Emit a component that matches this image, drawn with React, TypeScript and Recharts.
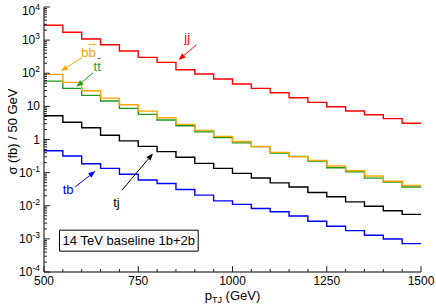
import React from "react";
import {
  LineChart,
  Line,
  XAxis,
  YAxis,
  ReferenceLine,
  ReferenceDot,
  ReferenceArea,
} from "recharts";

// bin edges in p_TJ (GeV), 50 GeV bins
const binEdges = [
  500, 550, 600, 650, 700, 750, 800, 850, 900, 950, 1000, 1050, 1100, 1150,
  1200, 1250, 1300, 1350, 1400, 1450, 1500,
];
const xMajor = [500, 750, 1000, 1250, 1500];
const yDecades = [-4, -3, -2, -1, 0, 1, 2, 3, 4];

// sigma (fb) per bin
const jj = [2800, 1720, 1080, 728, 469, 302, 213, 127, 95, 66.8, 47.2, 35, 25.8, 18.2, 13.2, 9.77, 7.24, 5.6, 4.26, 3.08];
const bb = [92.5, 53, 29.5, 17.8, 11.2, 7.2, 4.54, 2.87, 1.88, 1.24, 0.87, 0.616, 0.41, 0.3, 0.234, 0.158, 0.114, 0.079, 0.055, 0.041];
const tt = [58, 35, 21.5, 14.5, 8.7, 5.74, 3.88, 2.6, 1.7, 1.15, 0.79, 0.61, 0.39, 0.31, 0.223, 0.14, 0.106, 0.068, 0.052, 0.037];
const tj = [5.2, 3.3, 2.26, 1.35, 0.91, 0.62, 0.43, 0.29, 0.19, 0.134, 0.095, 0.069, 0.049, 0.037, 0.025, 0.0186, 0.0131, 0.0097, 0.0071, 0.0055];
const tb = [0.457, 0.318, 0.185, 0.134, 0.089, 0.06, 0.047, 0.031, 0.021, 0.014, 0.011, 0.0083, 0.0066, 0.0049, 0.0034, 0.0024, 0.00178, 0.00129, 0.00099, 0.00072];

const RED = "#ff0000";
const ORANGE = "#ffa500";
const GREEN = "#1f9a1f";
const BLACK = "#000000";
const BLUE = "#0000ff";

const series = [
  { key: "tt", values: tt, color: GREEN },
  { key: "bb", values: bb, color: ORANGE },
  { key: "jj", values: jj, color: RED },
  { key: "tj", values: tj, color: BLACK },
  { key: "tb", values: tb, color: BLUE },
];

// arrows and labels, in data coordinates
const arrows = [
  { from: { x: 904, y: 726 }, to: { x: 857, y: 251 }, color: RED },
  { from: { x: 601, y: 302 }, to: { x: 545, y: 116 }, color: ORANGE },
  { from: { x: 630, y: 103 }, to: { x: 586, y: 39 }, color: GREEN },
  { from: { x: 583, y: 0.0372 }, to: { x: 636, y: 0.111 }, color: BLUE },
  { from: { x: 707, y: 0.0296 }, to: { x: 789, y: 0.38 }, color: BLACK },
];
const labels = [
  { text: "jj", x: 880, y: 1240, color: RED, bar: false },
  { text: "bb", x: 618, y: 437, color: ORANGE, bar: true },
  { text: "tt", x: 641, y: 165, color: GREEN, bar: true },
  { text: "tb", x: 564, y: 0.0318, color: BLUE, bar: false },
  { text: "tj", x: 692, y: 0.0129, color: BLACK, bar: false },
];

const FONT = "'Liberation Sans', Arial, Helvetica, sans-serif";

const data = binEdges.map((x, i) => {
  const row: Record<string, number> = { x };
  series.forEach((s) => {
    row[s.key] = s.values[Math.min(i, s.values.length - 1)];
  });
  return row;
});

const yTicks: number[] = [];
yDecades.forEach((d) => {
  yTicks.push(Math.pow(10, d));
  if (d < 4) {
    for (let m = 2; m <= 9; m++) yTicks.push(m * Math.pow(10, d));
  }
});

const isDecade = (v: number) => {
  const l = Math.log10(v);
  return Math.abs(l - Math.round(l)) < 1e-6;
};

const BottomTick = (props: any) => {
  const { x, y, payload } = props;
  const major = xMajor.includes(payload.value);
  return (
    <g>
      <line x1={x} y1={y} x2={x} y2={y - (major ? 6 : 3)} stroke="#222" />
      {major && (
        <text x={x} y={y + 13} textAnchor="middle" fontSize={12} fontFamily={FONT} fill="#000">
          {payload.value}
        </text>
      )}
    </g>
  );
};

const TopTick = (props: any) => {
  const { x, y, payload } = props;
  const major = xMajor.includes(payload.value);
  return <line x1={x} y1={y} x2={x} y2={y + (major ? 6 : 3)} stroke="#222" />;
};

const LeftTick = (props: any) => {
  const { x, y, payload } = props;
  const v = payload.value;
  const major = isDecade(v);
  const e = Math.round(Math.log10(v));
  // the top label sits a little lower so its exponent stays on the page
  const ty = e === 4 ? y + 8 : y + 4;
  return (
    <g>
      <line x1={x} y1={y} x2={x + (major ? 6 : 3)} y2={y} stroke="#222" />
      {major && (
        <text x={x - 4} y={ty} textAnchor="end" fontSize={12} fontFamily={FONT} fill="#000">
          {e === 0 ? "1" : "10"}
          {e !== 0 && e !== 1 && (
            <tspan dy={-5} fontSize={8.5}>
              {e}
            </tspan>
          )}
        </text>
      )}
    </g>
  );
};

const RightTick = (props: any) => {
  const { x, y, payload } = props;
  const major = isDecade(payload.value);
  return <line x1={x} y1={y} x2={x - (major ? 6 : 3)} y2={y} stroke="#222" />;
};

const XTitle = (props: any) => {
  const vb = props.viewBox || {};
  const cx = vb.x + vb.width / 2;
  return (
    <text x={cx} y={vb.y + 28} textAnchor="middle" fontSize={13} fontFamily={FONT} fill="#000">
      p
      <tspan dy={3} fontSize={9}>TJ</tspan>
      <tspan dy={-3}> (GeV)</tspan>
    </text>
  );
};

const YTitle = (props: any) => {
  const vb = props.viewBox || {};
  const cx = vb.x + 12;
  const cy = vb.y + vb.height / 2 - 8;
  return (
    <text
      x={cx}
      y={cy}
      transform={`rotate(-90 ${cx} ${cy})`}
      textAnchor="middle"
      dominantBaseline="central"
      fontSize={13}
      fontFamily={FONT}
      fill="#000"
    >
      σ (fb) / 50 GeV
    </text>
  );
};

const Arrow = (props: any) => {
  const { x1, y1, x2, y2, color } = props;
  const ang = Math.atan2(y2 - y1, x2 - x1);
  const L = 7;
  const W = 2.8;
  const bx = x2 - L * Math.cos(ang);
  const by = y2 - L * Math.sin(ang);
  const pts = `${x2},${y2} ${bx - W * Math.sin(ang)},${by + W * Math.cos(ang)} ${bx + W * Math.sin(ang)},${by - W * Math.cos(ang)}`;
  return (
    <g>
      <line x1={x1} y1={y1} x2={bx} y2={by} stroke={color} strokeWidth={1} />
      <polygon points={pts} fill={color} />
    </g>
  );
};

// approximate glyph widths at 13px, used to place the bar over the second letter
const glyphWidth: Record<string, number> = { b: 7.2, t: 3.6 };

const Tag = (props: any) => {
  const { cx, cy, text, color, bar } = props;
  const w = glyphWidth[text[1]] || 7;
  return (
    <g>
      <text
        x={cx}
        y={cy}
        textAnchor="middle"
        dominantBaseline="central"
        fontSize={13}
        fontFamily={FONT}
        fill={color}
      >
        {text}
      </text>
      {bar && <line x1={cx + 0.3} x2={cx + w} y1={cy - 7.5} y2={cy - 7.5} stroke={color} strokeWidth={1} />}
    </g>
  );
};

export default function App() {
  return (
    <div style={{ position: "absolute", left: 0, top: 0, width: 436, height: 306, background: "#fff" }}>
      <LineChart
        width={436}
        height={306}
        data={data}
        margin={{ top: 7, right: 15, bottom: 0, left: 0 }}
      >
        <XAxis
          dataKey="x"
          type="number"
          domain={[500, 1500]}
          ticks={binEdges}
          interval={0}
          allowDataOverflow
          height={34}
          tickSize={0}
          tickMargin={0}
          tickLine={false}
          axisLine={{ stroke: "#000" }}
          tick={<BottomTick />}
          label={<XTitle />}
        />
        <XAxis
          xAxisId="top"
          orientation="top"
          dataKey="x"
          type="number"
          domain={[500, 1500]}
          ticks={binEdges}
          interval={0}
          allowDataOverflow
          height={0}
          tickSize={0}
          tickMargin={0}
          tickLine={false}
          axisLine={{ stroke: "#000" }}
          tick={<TopTick />}
        />
        <YAxis
          type="number"
          scale="log"
          domain={[1e-4, 1e4]}
          ticks={yTicks}
          interval={0}
          allowDataOverflow
          width={44}
          tickSize={0}
          tickMargin={0}
          tickLine={false}
          axisLine={{ stroke: "#000" }}
          tick={<LeftTick />}
          label={<YTitle />}
        />
        <YAxis
          yAxisId="right"
          orientation="right"
          type="number"
          scale="log"
          domain={[1e-4, 1e4]}
          ticks={yTicks}
          interval={0}
          allowDataOverflow
          width={0}
          tickSize={0}
          tickMargin={0}
          tickLine={false}
          axisLine={{ stroke: "#000" }}
          tick={<RightTick />}
        />
        {series.map((s) => (
          <Line
            key={s.key}
            dataKey={s.key}
            type="stepAfter"
            stroke={s.color}
            strokeWidth={1.4}
            dot={false}
            activeDot={false}
            isAnimationActive={false}
          />
        ))}
        {arrows.map((a, i) => (
          <ReferenceLine
            key={"a" + i}
            segment={[a.from, a.to]}
            stroke={a.color}
            ifOverflow="visible"
            shape={(p: any) => <Arrow {...p} color={a.color} />}
          />
        ))}
        {labels.map((l, i) => (
          <ReferenceDot
            key={"l" + i}
            x={l.x}
            y={l.y}
            r={0}
            ifOverflow="visible"
            shape={(p: any) => <Tag {...p} text={l.text} color={l.color} bar={l.bar} />}
          />
        ))}
        <ReferenceArea
          x1={541}
          x2={909}
          y1={0.00183}
          y2={0.000426}
          fill="#fff"
          fillOpacity={1}
          stroke="#000"
          strokeWidth={1}
          ifOverflow="visible"
          label={{ value: "14 TeV baseline 1b+2b", position: "center", fontSize: 13, fontFamily: FONT, fill: "#000" }}
        />
      </LineChart>
    </div>
  );
}
